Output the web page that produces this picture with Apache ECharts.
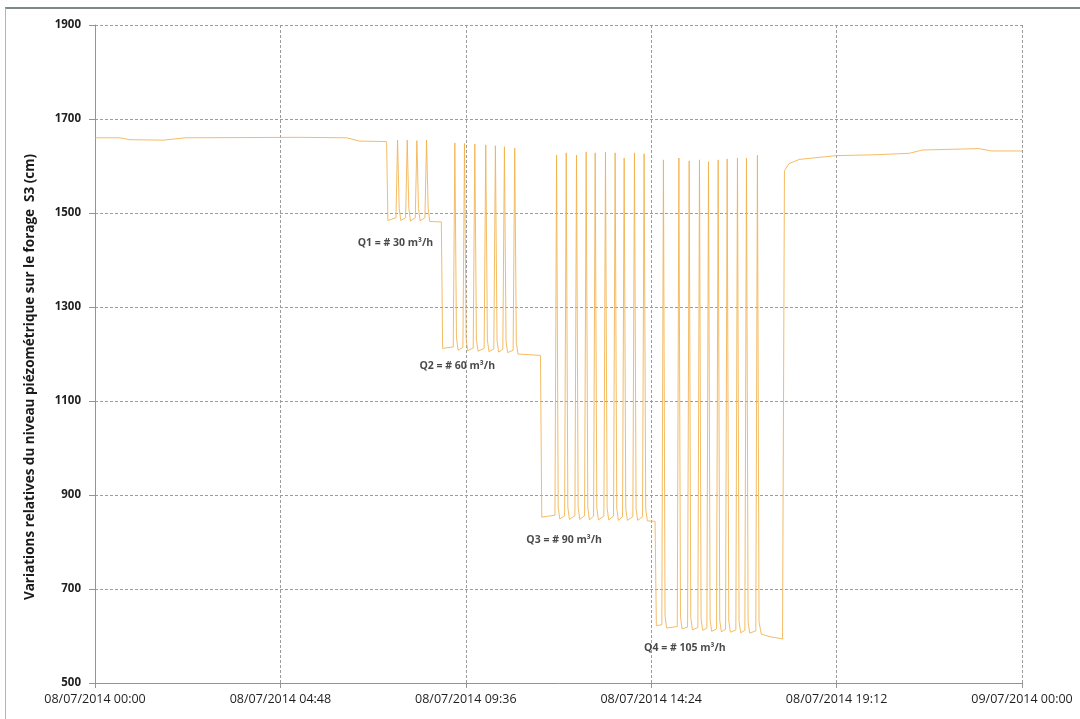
<!DOCTYPE html>
<html>
<head>
<meta charset="utf-8">
<script src="https://cdn.jsdelivr.net/npm/echarts@6/dist/echarts.min.js"></script>
<style>
  html, body { margin: 0; padding: 0; background: #fff; }
  #frame {
    position: absolute; left: 5px; top: 7px; width: 1075px; height: 712px;
    border-top: 2px solid #7d8a82; border-left: 1px solid #b5b5b5;
  }
  #chart { position: absolute; left: 0; top: 0; width: 1080px; height: 719px; }
</style>
</head>
<body>
<div id="frame"></div>
<div id="chart"></div>
<script>
// x values are minutes after 08/07/2014 00:00, y values are levels in cm
const tickLabels = [
  '08/07/2014 00:00', '08/07/2014 04:48', '08/07/2014 09:36',
  '08/07/2014 14:24', '08/07/2014 19:12', '09/07/2014 00:00'
];

const beforePumping = [
  [0, 1660], [39, 1660], [54, 1656], [106, 1655], [140, 1660],
  [318, 1661], [391, 1660], [411, 1653], [453, 1652]
];

// Q1 ~ 30 m3/h
const stageQ1 = [
  [455, 1484],
  [467.5, 1490], [470, 1655], [472.5, 1510], [475, 1484],
  [482.5, 1490], [485, 1655], [487.5, 1510], [490, 1483],
  [497.5, 1490], [500, 1654], [502.5, 1510], [505, 1483],
  [512.5, 1490], [515, 1655], [517.5, 1510], [520, 1482],
  [538, 1481]
];

// Q2 ~ 60 m3/h
const stageQ2 = [
  [540, 1212],
  [556.5, 1215], [559, 1649], [561.5, 1235], [564, 1208],
  [571.5, 1214], [574, 1648], [576.5, 1233], [579, 1207],
  [587.5, 1213], [590, 1647], [592.5, 1231], [595, 1206],
  [604.5, 1212], [607, 1645], [609.5, 1230], [612, 1205],
  [619.5, 1211], [622, 1643], [624.5, 1229], [627, 1204],
  [633.5, 1210], [636, 1641], [638.5, 1227], [641, 1203],
  [649.5, 1208], [652, 1638], [654.5, 1225], [657, 1200],
  [692, 1197]
];

// Q3 ~ 90 m3/h
const stageQ3 = [
  [694, 853],
  [714.5, 857], [717, 1623], [719.5, 875], [722, 849],
  [729.5, 856], [732, 1628], [734.5, 874], [737, 848],
  [745.5, 856], [748, 1623], [750.5, 874], [753, 848],
  [760.5, 856], [763, 1630], [765.5, 874], [768, 847],
  [774.5, 855], [777, 1628], [779.5, 873], [782, 847],
  [790.5, 855], [793, 1630], [795.5, 873], [798, 847],
  [805.5, 855], [808, 1628], [810.5, 872], [813, 846],
  [819.5, 854], [822, 1617], [824.5, 871], [827, 846],
  [835.5, 854], [838, 1628], [840.5, 871], [843, 846],
  [850.5, 854], [853, 1626], [855.5, 870], [858, 845],
  [870, 844]
];

// Q4 ~ 105 m3/h
const stageQ4 = [
  [872, 622],
  [880.5, 624], [883, 1613], [885.5, 643], [888, 617],
  [904.5, 620], [907, 1617], [909.5, 641], [912, 615],
  [920.5, 619], [923, 1611], [925.5, 639], [928, 613],
  [936.5, 618], [939, 1613], [941.5, 637], [944, 612],
  [950.5, 617], [953, 1609], [955.5, 635], [958, 610],
  [965.5, 615], [968, 1613], [970.5, 633], [973, 609],
  [979.5, 614], [982, 1615], [984.5, 632], [987, 608],
  [995.5, 613], [998, 1617], [1000.5, 631], [1003, 607],
  [1009.5, 612], [1012, 1617], [1014.5, 630], [1017, 606],
  [1026.5, 611], [1029, 1623], [1031.5, 630], [1035, 604],
  [1050, 598], [1068, 594]
];

const recovery = [
  [1069, 594], [1071, 1590], [1078, 1605], [1094, 1614], [1151, 1622],
  [1213, 1624], [1265, 1627], [1285, 1634], [1373, 1637], [1393, 1632],
  [1440, 1632]
];

const noteTexts = ['Q1 = # 30 m³/h', 'Q2 = # 60 m³/h', 'Q3 = # 90 m³/h', 'Q4 = # 105 m³/h'];
const noteMinutes = [408, 504, 670, 853];
const noteLevels = [1436, 1174, 804, 574];

const levelSeries = [].concat(beforePumping, stageQ1, stageQ2, stageQ3, stageQ4, recovery);

const chart = echarts.init(document.getElementById('chart'));

const gridLine = { show: true, lineStyle: { color: '#9c9c9c', width: 1, type: [3, 2] } };

chart.setOption({
  animation: false,
  grid: { left: 95, right: 58, top: 25, bottom: 36, containLabel: false },
  xAxis: {
    type: 'value',
    min: 0,
    max: 1440,
    interval: 288,
    axisLine: { show: true, lineStyle: { color: '#8d969a', width: 1 } },
    axisTick: { show: true, length: 5, lineStyle: { color: '#8d969a' } },
    splitLine: gridLine,
    axisLabel: {
      margin: 10,
      color: '#1f1f1f',
      fontFamily: 'Open Sans',
      fontSize: 12.5,
      formatter: (v) => tickLabels[Math.round(v / 288)]
    }
  },
  yAxis: {
    type: 'value',
    min: 500,
    max: 1900,
    interval: 200,
    name: 'Variations relatives du niveau piézométrique sur le forage  S3 (cm)',
    nameLocation: 'middle',
    nameGap: 58,
    nameTextStyle: {
      color: '#1a1a1a', fontFamily: 'Open Sans', fontWeight: 'bold', fontSize: 13.5,
      padding: [0, 46, 0, 0]
    },
    axisLine: { show: true, lineStyle: { color: '#8d969a', width: 1 } },
    axisTick: { show: true, length: 6, lineStyle: { color: '#8d969a' } },
    splitLine: gridLine,
    axisLabel: {
      margin: 14,
      color: '#1f1f1f',
      fontFamily: 'Open Sans',
      fontWeight: 'bold',
      fontSize: 11.5,
      formatter: (v) => String(v)
    }
  },
  series: [
    {
      name: 'S3',
      type: 'line',
      data: levelSeries,
      showSymbol: false,
      symbol: 'none',
      lineStyle: { color: '#f2b04a', width: 1, opacity: 0.85 }
    },
    {
      name: 'notes',
      type: 'scatter',
      symbolSize: 0,
      data: noteMinutes.map((m, i) => ({ value: [m, noteLevels[i]], note: noteTexts[i] })),
      label: {
        show: true,
        position: 'right',
        distance: 0,
        color: '#1a1a1a',
        fontFamily: 'Open Sans',
        fontWeight: 'bold',
        fontSize: 10.5,
        formatter: (p) => p.data.note
      },
      silent: true
    }
  ]
});
</script>
</body>
</html>
